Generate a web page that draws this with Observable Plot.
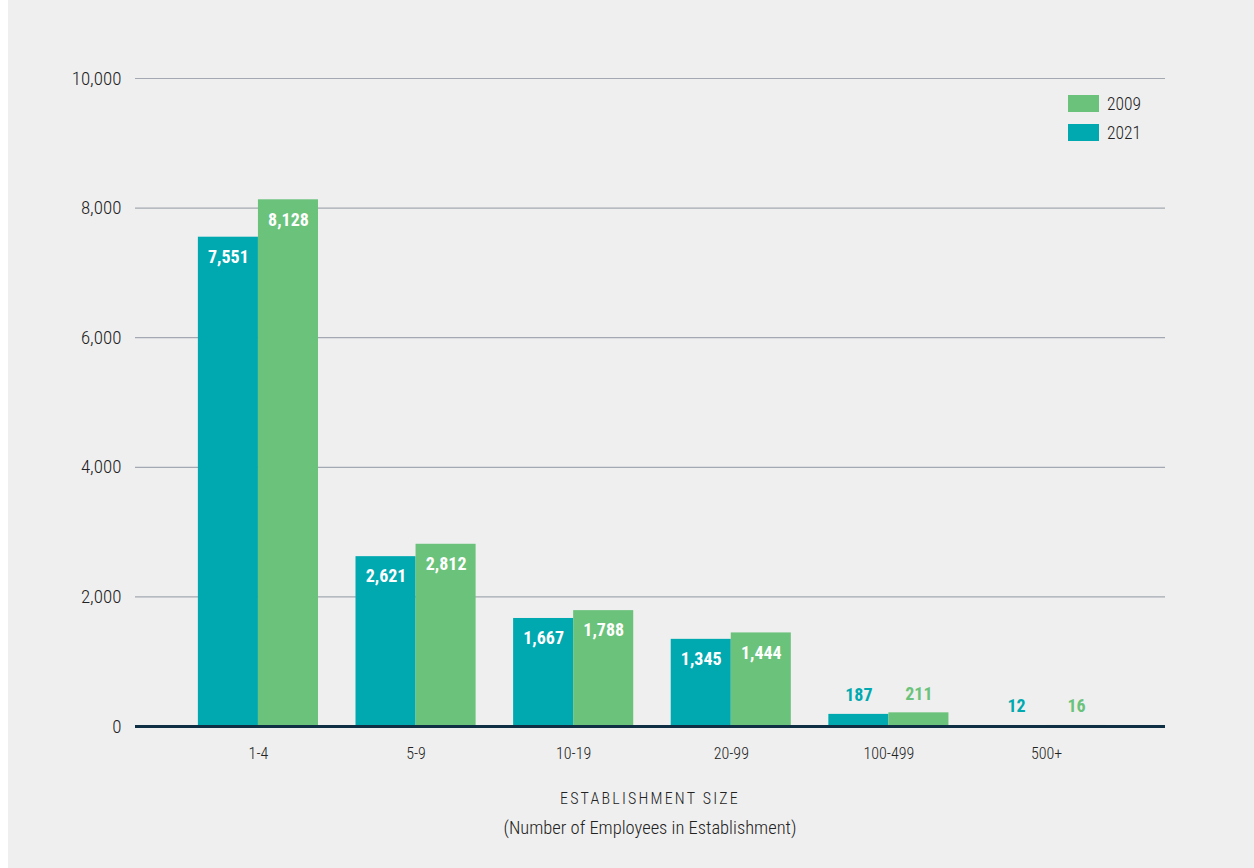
<!DOCTYPE html>
<html>
<head>
<meta charset="utf-8">
<script src="https://cdn.jsdelivr.net/npm/d3@7"></script>
<script src="https://cdn.jsdelivr.net/npm/@observablehq/plot@0.6"></script>
<style>
  html, body { margin: 0; padding: 0; background: #ffffff; }
  #panel {
    position: relative; margin-left: 8px; width: 1246px; height: 868px;
    background: #efefef; overflow: hidden;
    font-family: "Roboto Condensed", "Liberation Sans Narrow", "DejaVu Sans Condensed", Roboto, sans-serif;
    font-stretch: condensed;
    color: #222;
  }
  #panel svg { position: absolute; left: 0; top: 0; }
  .legend { position: absolute; left: 1060px; top: 89px; font-size: 17.5px; font-weight: 300; }
  .legend .row { display: flex; align-items: center; height: 29px; }
  .legend .sw { width: 31px; height: 17px; margin-right: 8px; }
  .xtitle { position: absolute; left: 127px; width: 1030px; text-align: center; font-weight: 300; }
  .xtitle.main { top: 789px; font-size: 16px; letter-spacing: 2.2px; }
  .xtitle.sub { top: 817px; font-size: 18.5px; }
</style>
</head>
<body>
<div id="panel"></div>
<script>
// Establishment counts by size class, 2021 vs 2009
const sizes = ["1-4", "5-9", "10-19", "20-99", "100-499", "500+"];
const years = ["2021", "2009"];
const values2021 = [7551, 2621, 1667, 1345, 187, 12];
const values2009 = [8128, 2812, 1788, 1444, 211, 16];
const yTicks = [0, 2000, 4000, 6000, 8000, 10000];
const legendOrder = ["2009", "2021"];
const palette = { "2021": "#00a9b0", "2009": "#6bc27b" };

const rows = [];
sizes.forEach((s, i) => {
  rows.push({ size: s, i, year: "2021", value: values2021[i] });
  rows.push({ size: s, i, year: "2009", value: values2009[i] });
});

// each group is one unit wide on the x scale; the two bars sit either side of the group centre
const bw = 0.381;
const left = d => d.year === "2021" ? d.i - bw : d.i;
const right = d => d.year === "2021" ? d.i : d.i + bw;
const mid = d => (left(d) + right(d)) / 2;
const fmt = d3.format(",");

const marks = [
  Plot.ruleY(yTicks.filter(d => d > 0), { stroke: "#a3a8b2", strokeWidth: 1.2 }),
  Plot.axisY(yTicks, {
    tickSize: 0, tickPadding: 14, tickFormat: fmt,
    fontSize: 19, fontWeight: 300, fill: "#222", label: null
  }),
  Plot.axisX(d3.range(sizes.length), {
    tickSize: 0, tickPadding: 21, tickFormat: i => sizes[i],
    fontSize: 16, fontWeight: 300, fill: "#222", label: null
  })
];
for (const y of years) {
  const data = rows.filter(d => d.year === y);
  marks.push(Plot.rectY(data, { x1: left, x2: right, y: "value", fill: palette[y] }));
  marks.push(Plot.text(data.filter(d => d.value >= 1000), {
    x: mid, y: "value", text: d => fmt(d.value), dy: 20,
    fill: "#ffffff", fontSize: 18, fontWeight: "bold"
  }));
  marks.push(Plot.text(data.filter(d => d.value < 1000), {
    x: mid, y: "value", text: d => fmt(d.value), dy: -19,
    fill: palette[y], fontSize: 18, fontWeight: "bold"
  }));
}
marks.push(Plot.ruleY([0], { stroke: "#0f2f45", strokeWidth: 3 }));

const chart = Plot.plot({
  width: 1246,
  height: 780,
  marginLeft: 127,
  marginRight: 89,
  marginTop: 78,
  marginBottom: 54,
  style: {
    background: "transparent",
    fontFamily: "\"Roboto Condensed\", \"Liberation Sans Narrow\", \"DejaVu Sans Condensed\", Roboto, sans-serif",
    fontStretch: "condensed",
    overflow: "visible"
  },
  x: { type: "linear", domain: [-0.78, 5.755] },
  y: { domain: [0, 10000] },
  marks
});

const panel = document.getElementById("panel");
panel.appendChild(chart);

const legend = document.createElement("div");
legend.className = "legend";
for (const y of legendOrder) {
  const row = document.createElement("div");
  row.className = "row";
  const sw = document.createElement("div");
  sw.className = "sw";
  sw.style.background = palette[y];
  const lab = document.createElement("span");
  lab.textContent = y;
  row.append(sw, lab);
  legend.appendChild(row);
}
panel.appendChild(legend);

const t1 = document.createElement("div");
t1.className = "xtitle main";
t1.textContent = "ESTABLISHMENT SIZE";
const t2 = document.createElement("div");
t2.className = "xtitle sub";
t2.textContent = "(Number of Employees in Establishment)";
panel.append(t1, t2);
</script>
</body>
</html>
